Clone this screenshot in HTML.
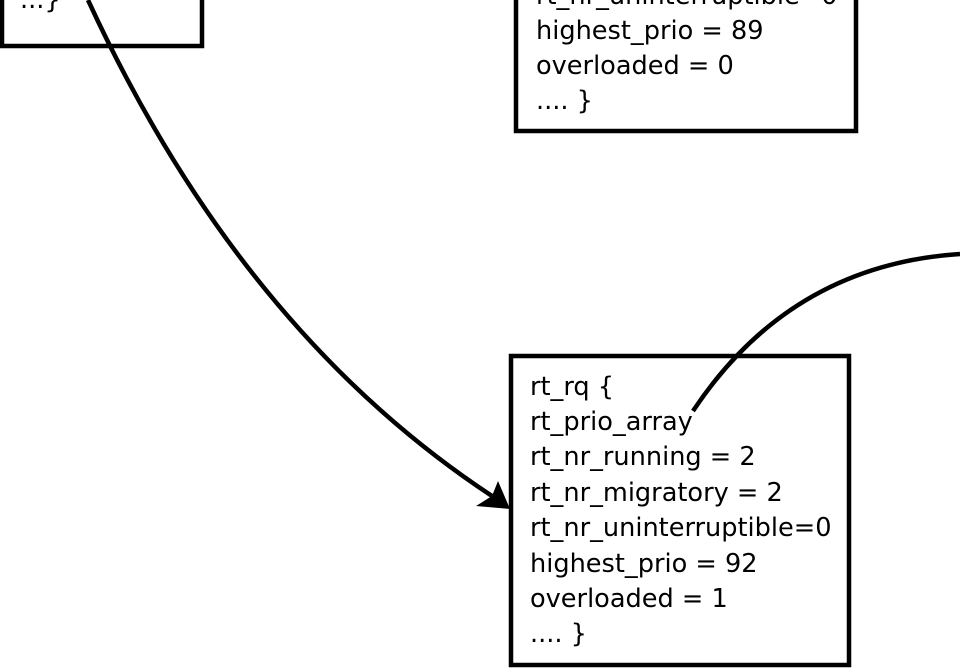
<!DOCTYPE html>
<html><head><meta charset="utf-8"><style>
html,body{margin:0;padding:0;background:#fff;width:960px;height:669px;overflow:hidden}
text{font-family:"DejaVu Sans","Liberation Sans",sans-serif;font-size:25.6px;fill:#000}
</style></head><body>
<svg width="960" height="669" viewBox="0 0 960 669" xmlns="http://www.w3.org/2000/svg">
<rect x="2" y="-20" width="200" height="66" fill="none" stroke="#000" stroke-width="4.5"/>
<text x="20" y="8">...}</text>
<rect x="516" y="-20" width="340" height="151" fill="none" stroke="#000" stroke-width="4.5"/>
<text x="536" y="4">rt_nr_uninterruptible=0</text>
<text x="536" y="39">highest_prio = 89</text>
<text x="536" y="74">overloaded = 0</text>
<text x="536" y="109">.... }</text>
<rect x="511" y="356" width="338" height="309" fill="none" stroke="#000" stroke-width="4.5"/>
<text x="530" y="395">rt_rq {</text>
<text x="530" y="430">rt_prio_array</text>
<text x="530" y="465">rt_nr_running = 2</text>
<text x="530" y="501">rt_nr_migratory = 2</text>
<text x="530" y="536">rt_nr_uninterruptible=0</text>
<text x="530" y="572">highest_prio = 92</text>
<text x="530" y="607">overloaded = 1</text>
<text x="530" y="642">.... }</text>
<path d="M88 0 Q240 330 492 496" fill="none" stroke="#000" stroke-width="4.5"/>
<polygon points="510,509 476,506 492,496 498,481" fill="#000"/>
<path d="M693 411 Q790 265 960 254" fill="none" stroke="#000" stroke-width="4.5"/>
</svg>
</body></html>
